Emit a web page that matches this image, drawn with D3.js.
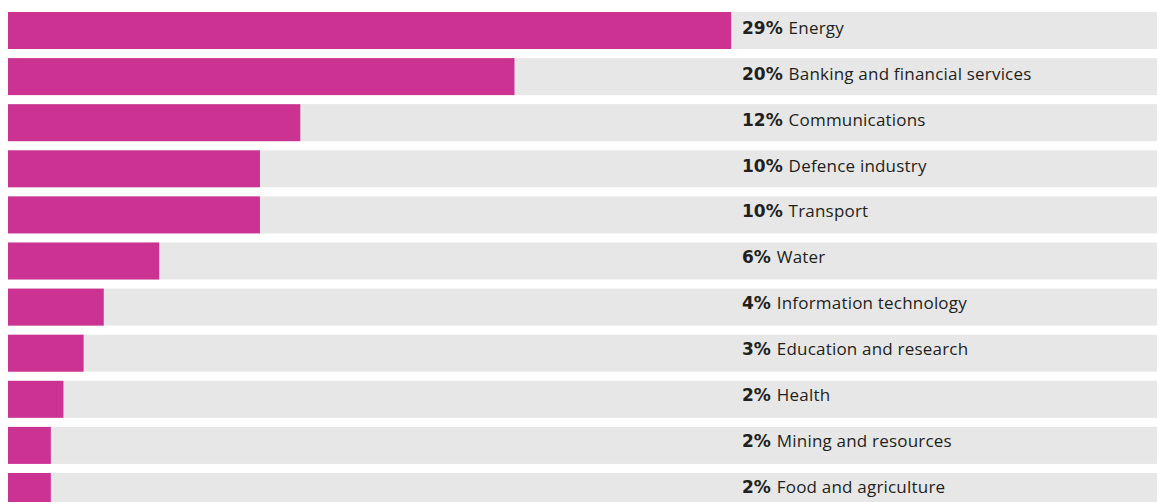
<!DOCTYPE html>
<html>
<head>
<meta charset="utf-8">
<script src="https://cdn.jsdelivr.net/npm/d3@7"></script>
<style>
  html, body { margin: 0; padding: 0; background: #ffffff; }
  svg { display: block; }
</style>
</head>
<body>
<svg id="chart" width="1157" height="502"></svg>
<script>
// Share of incidents by sector (percent)
const sectors = [
  "Energy",
  "Banking and financial services",
  "Communications",
  "Defence industry",
  "Transport",
  "Water",
  "Information technology",
  "Education and research",
  "Health",
  "Mining and resources",
  "Food and agriculture"
];
const shares = [28.7, 20.1, 11.6, 10.0, 10.0, 6.0, 3.8, 3.0, 2.2, 1.7, 1.7];
const trackMax = 45.6;

const width = 1157, height = 502;
const svg = d3.select("#chart");

const rowStep = 46.1, rowGap = 9.1, firstRowY = 12;

const x = d3.scaleLinear().domain([0, trackMax]).range([8, width]);
const y = d3.scaleBand()
  .domain(sectors)
  .range([firstRowY, firstRowY + rowStep * sectors.length - rowGap])
  .paddingInner(rowGap / rowStep)
  .paddingOuter(0)
  .align(0);

// label baselines
const yLabel = d3.scalePoint()
  .domain(sectors)
  .range([34, 492.7]);

const data = sectors.map((s, i) => ({ sector: s, share: shares[i] }));

const rows = svg.selectAll("g.row")
  .data(data)
  .join("g")
  .attr("class", "row");

// background track
rows.append("rect")
  .attr("x", x(0))
  .attr("y", d => y(d.sector))
  .attr("width", x(trackMax) - x(0))
  .attr("height", y.bandwidth())
  .attr("fill", "#e6e7e6");

// value bar
rows.append("rect")
  .attr("x", x(0))
  .attr("y", d => y(d.sector))
  .attr("width", d => x(d.share) - x(0))
  .attr("height", y.bandwidth())
  .attr("fill", "#cb3292");

const fmt = d3.format(".0f");
const label = rows.append("text")
  .attr("x", 742)
  .attr("y", d => yLabel(d.sector))
  .attr("font-size", 17)
  .attr("fill", "#231f20");

label.append("tspan")
  .attr("font-family", "'DejaVu Sans', sans-serif")
  .attr("font-weight", "bold")
  .text(d => fmt(d.share) + "% ");
label.append("tspan")
  .attr("font-family", "'Open Sans', 'Noto Sans', sans-serif")
  .attr("letter-spacing", 0.2)
  .text(d => d.sector);
</script>
</body>
</html>
